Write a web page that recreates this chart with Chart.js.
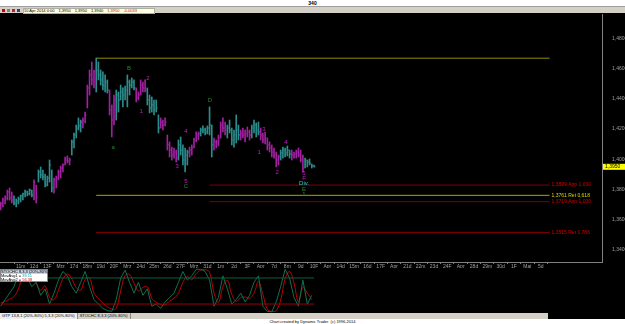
<!DOCTYPE html>
<html lang="de">
<head>
<meta charset="UTF-8">
<title>340</title>
<script src="https://cdn.jsdelivr.net/npm/chart.js"></script>
<style>
  body { margin: 0; width: 625px; height: 324px; background: #000; overflow: hidden; position: relative;
         font-family: "Liberation Sans", Arial, sans-serif; }
  canvas { position: absolute; left: 0; }
  #title { position: absolute; left: 0; top: 0; width: 625px; height: 6px; background: #fff; border-bottom: 1px solid #a0a0a0;
           font-size: 5px; line-height: 6px; text-align: center; font-weight: bold; color: #000; }
  #info { position: absolute; left: 0; top: 7px; width: 625px; height: 6px; background: #d4d0c8; }
  #info .ico { position: absolute; top: 2px; width: 3px; height: 3px; }
  #info .box { position: absolute; left: 23px; top: 1px; width: 130px; height: 4px; background: #ffffe1; border: 1px solid #b0b0a0;
               font-size: 4px; line-height: 4px; white-space: nowrap; color: #000; }
  #info .box span { margin-right: 4px; }
  #legend { position: absolute; left: 0; top: 269px; width: 48px; height: 13px; background: #fff; border: 1px solid #888;
            box-sizing: border-box; font-size: 4px; line-height: 4px; color: #000; white-space: nowrap; }
  #legend div:first-child { background: #c8d0e0; }
  #tabs { position: absolute; left: 0; top: 313px; width: 548px; height: 6px; background: #d4d0c8; font-size: 4px; line-height: 6px; white-space: nowrap; }
  #tabs span { display: inline-block; padding: 0 2px; border-right: 1px solid #888; }
  #tabs span:first-child { background: #eeeeee; }
  #credit { position: absolute; left: 0; top: 319px; width: 625px; height: 5px; background: #fff; font-size: 4px; line-height: 5px;
            text-align: center; color: #000; }
</style>
</head>
<body>
<div id="title">340</div>
<div id="info">
  <div class="ico" style="left:2px;background:#d00000"></div>
  <div class="ico" style="left:7px;background:#808080"></div>
  <div class="ico" style="left:12px;background:#a03030"></div>
  <div class="ico" style="left:17px;background:#2040a0"></div>
  <div class="box"><span>10 Apr 2014 0:00</span><span>1,3950</span><span>1,3950</span><span>1,3940</span><span style="color:#e00000">1,3950</span><span style="color:#e00000">-0,0033</span></div>
</div>
<canvas id="main" width="625" height="254" style="top:14px"></canvas>
<canvas id="osc" width="625" height="46" style="top:268px"></canvas>
<div id="legend">
  <div>STOCHC 8,3,3 (20%-80%)</div>
  <div>MovAvg1 = <span style="color:#00a0a0">39,11</span></div>
  <div>MovAvg2 = <span style="color:#e00000">56,38</span></div>
</div>
<div id="tabs"><span>GTP 13,8,1 (20%-80%) 5,3,3 (20%-80%)</span><span>STOCHC 8,3,3 (20%-80%)</span></div>
<div id="credit">Chart created by Dynamic Trader &nbsp;(c) 1996-2014</div>

<script>
// 4-hour bars, 7 Mar 2014 12:00 .. 10 Apr 2014 0:00
const high = [1.3717,1.3743,1.3757,1.3796,1.3810,1.3783,1.3757,1.3737,1.3750,1.3763,
  1.3776,1.3796,1.3790,1.3803,1.3796,1.3863,1.3829,1.3929,1.3949,1.3929,
  1.3902,1.3889,1.3995,1.3929,1.3876,1.3889,1.3929,1.3955,1.3969,1.4015,
  1.4022,1.4008,1.4128,1.4174,1.4227,1.4274,1.4260,1.4274,1.4313,1.4492,
  1.4592,1.4645,1.4592,1.4671,1.4645,1.4592,1.4579,1.4559,1.4526,1.4459,
  1.4360,1.4426,1.4459,1.4446,1.4492,1.4473,1.4486,1.4559,1.4526,1.4539,
  1.4526,1.4473,1.4446,1.4526,1.4512,1.4526,1.4473,1.4426,1.4413,1.4393,
  1.4393,1.4294,1.4274,1.4260,1.4274,1.4161,1.4115,1.4081,1.4075,1.4061,
  1.4128,1.4148,1.4095,1.4075,1.4061,1.4081,1.4095,1.4141,1.4181,1.4181,
  1.4207,1.4221,1.4207,1.4221,1.4347,1.4227,1.4141,1.4128,1.4161,1.4247,
  1.4274,1.4247,1.4227,1.4260,1.4207,1.4194,1.4294,1.4227,1.4194,1.4207,
  1.4194,1.4214,1.4194,1.4227,1.4260,1.4241,1.4247,1.4207,1.4174,1.4181,
  1.4141,1.4115,1.4095,1.4075,1.4048,1.4028,1.4061,1.4081,1.4075,1.4088,
  1.4061,1.4061,1.4048,1.4061,1.4075,1.4061,1.4028,1.4008,1.3995,1.4002,
  1.3969,1.3962];
const low = [1.3664,1.3684,1.3704,1.3730,1.3730,1.3710,1.3697,1.3684,1.3704,1.3717,
  1.3730,1.3750,1.3757,1.3763,1.3750,1.3730,1.3710,1.3849,1.3876,1.3863,
  1.3816,1.3823,1.3849,1.3783,1.3776,1.3810,1.3863,1.3876,1.3916,1.3962,
  1.3975,1.3962,1.4028,1.4075,1.4141,1.4194,1.4181,1.4207,1.4241,1.4340,
  1.4426,1.4492,1.4473,1.4446,1.4526,1.4492,1.4459,1.4446,1.4439,1.4294,
  1.4148,1.4227,1.4260,1.4313,1.4393,1.4347,1.4393,1.4347,1.4426,1.4473,
  1.4459,1.4380,1.4393,1.4426,1.4446,1.4446,1.4360,1.4307,1.4313,1.4294,
  1.4313,1.4174,1.4207,1.4194,1.4221,1.4061,1.4015,1.3995,1.4008,1.3982,
  1.3995,1.4028,1.3962,1.3916,1.3962,1.4015,1.4028,1.4075,1.4115,1.4128,
  1.4154,1.4174,1.4161,1.4168,1.4161,1.4015,1.4061,1.4075,1.4088,1.4141,
  1.4181,1.4161,1.4141,1.4174,1.4095,1.4081,1.4108,1.4128,1.4128,1.4141,
  1.4115,1.4148,1.4128,1.4141,1.4174,1.4148,1.4161,1.4128,1.4108,1.4101,
  1.4061,1.4048,1.4015,1.4008,1.3949,1.3962,1.3995,1.4008,1.4015,1.4022,
  1.4008,1.3995,1.4008,1.4008,1.4015,1.3982,1.3916,1.3942,1.3949,1.3962,
  1.3942,1.3949];
const close = [1.3704,1.3730,1.3743,1.3783,1.3743,1.3730,1.3710,1.3724,1.3737,1.3757,
  1.3770,1.3783,1.3770,1.3796,1.3763,1.3849,1.3750,1.3916,1.3896,1.3883,
  1.3829,1.3876,1.3962,1.3810,1.3863,1.3876,1.3916,1.3942,1.3962,1.3995,
  1.3989,1.3995,1.4115,1.4161,1.4207,1.4221,1.4247,1.4260,1.4294,1.4473,
  1.4559,1.4526,1.4579,1.4592,1.4559,1.4526,1.4492,1.4512,1.4459,1.4327,
  1.4260,1.4393,1.4426,1.4393,1.4446,1.4426,1.4459,1.4512,1.4492,1.4512,
  1.4473,1.4406,1.4426,1.4492,1.4473,1.4459,1.4393,1.4340,1.4360,1.4327,
  1.4340,1.4207,1.4247,1.4227,1.4247,1.4095,1.4061,1.4028,1.4048,1.4008,
  1.4095,1.4061,1.3995,1.4028,1.4048,1.4061,1.4075,1.4128,1.4161,1.4168,
  1.4194,1.4194,1.4181,1.4207,1.4227,1.4095,1.4115,1.4115,1.4141,1.4227,
  1.4207,1.4194,1.4207,1.4194,1.4128,1.4161,1.4194,1.4161,1.4174,1.4161,
  1.4168,1.4181,1.4161,1.4207,1.4227,1.4194,1.4181,1.4161,1.4128,1.4141,
  1.4095,1.4075,1.4048,1.4028,1.3995,1.4015,1.4042,1.4061,1.4042,1.4061,
  1.4035,1.4028,1.4035,1.4048,1.4028,1.3995,1.3942,1.3995,1.3982,1.3975,
  1.3955,1.3950];
// trend colouring of the bars: [direction, number of bars]
const trendRuns = [['dn',6],['up',9],['dn',2],['up',7],['dn',8],['up',5],['dn',6],['up',6],['dn',3],
  ['up',9],['dn',5],['up',6],['dn',8],['up',5],['dn',5],['up',6],['dn',3],['dn',3],['up',6],['dn',5],
  ['up',4],['dn',9],['up',5],['dn',6],['up',5]];

// day labels on the time axis, first one is 11 Mar
const dayLabels = ['11m','12d','13F','Mrz','17d','18m','19d','20F','Mrz','24d','25m','26d','27F','Mrz',
  '31d','1m','2d','3F','Apr','7d','8m','9d','10F','Apr','14d','15m','16d','17F','Apr','21d','22m','23d',
  '24F','Apr','28d','29m','30d','1F','Mai','5d'];
const firstDayBar = 9;
const barsPerDay = 6;
const priceTicks = [1.34, 1.36, 1.38, 1.40, 1.42, 1.44, 1.46, 1.48];

// projection / retracement levels
const levelPrice = [1.4670, 1.3829, 1.3761, 1.3719, 1.3515];
const levelStartBar = [43, 94, 43, 94, 43];
const levelEndBar = 247;
const levelText = ['', '1,3829 App 1,000', '1,3761 Ret 0,618', '1,3719 App 1,000', '1,3515 Ret 0,786'];

// wave labels
const waveText = ['a','B','1','2','3','4','5','C','D','1','3','2','4','5','F','Div.','E','1'];
const waveBar = [50.6, 57.8, 63.2, 66.3, 79.4, 83.4, 83.4, 83.4, 94.2, 116.3, 118.5, 124.4, 128.4, 136.5, 136.5, 136.5, 136.5, 136.5];
const wavePrice = [1.4081, 1.4605, 1.4320, 1.4539, 1.3955, 1.4188, 1.3856, 1.3823, 1.4393, 1.4048, 1.4201, 1.3916, 1.4115, 1.3909, 1.3876, 1.3843, 1.3803, 1.3770];
const waveKind = ['g','g','m','m','m','m','m','g','g','m','m','m','m','m','m','c','g','g'];

// STOCHC 8,3,3, one reading every 2 bars
const oscStep = 2;
const oscFast = [15,30,45,60,90,100,80,60,70,40,55,20,45,75,95,85,60,45,70,95,60,30,20,10,5,3,30,80,98,70,
  45,70,40,55,15,20,10,25,35,45,70,95,75,85,100,100,95,75,15,35,85,55,20,30,45,25,40,70,85,15,
  3,2,25,60,100,80,35,15,75,20,40];
const oscSlow = [22,26,31,37,55,85,97,85,68,52,62,35,30,52,78,89,78,58,52,77,80,45,33,22,14,8,10,50,86,88,
  68,50,58,60,33,24,19,18,27,33,45,70,83,76,90,98,99,93,45,24,60,75,42,26,35,36,33,45,72,42,
  8,3,5,29,78,95,68,25,58,45,30];
const oscLevels = [80, 20];

// ---- styles
const UP = '#2b8c8c', DN = '#a0209f';
const waveColor = { g: '#2a8a2a', m: '#c020c0', c: '#30d0d0' };
const levelColor = ['#8f8f00', '#800000', '#a8a800', '#800000', '#800000'];
const levelTextColor = ['#c0c000', '#d00000', '#d8d800', '#d00000', '#d00000'];
const FONT = '"Liberation Sans", Arial, sans-serif';

const barColors = [];
trendRuns.forEach(r => { for (let k = 0; k < r[1]; k++) barColors.push(r[0] === 'up' ? UP : DN); });

const xRange = { min: -0.3, max: 270.6 };
const noPad = s => { s.paddingTop = 0; s.paddingBottom = 0; s.paddingLeft = 0; s.paddingRight = 0; };

const annotate = {
  id: 'annotate',
  afterDatasetsDraw(chart) {
    const { ctx, scales: { x, y } } = chart;
    ctx.save();
    ctx.font = '6px ' + FONT;
    ctx.textAlign = 'center';
    ctx.textBaseline = 'middle';
    waveText.forEach((t, i) => {
      ctx.fillStyle = waveColor[waveKind[i]];
      ctx.fillText(t, x.getPixelForValue(waveBar[i]), y.getPixelForValue(wavePrice[i]));
    });
    ctx.textAlign = 'left';
    ctx.font = '5px ' + FONT;
    levelText.forEach((t, i) => {
      if (!t) return;
      ctx.fillStyle = levelTextColor[i];
      ctx.fillText(t, x.getPixelForValue(levelEndBar) + 2, y.getPixelForValue(levelPrice[i]));
    });
    // last price marker on the price axis
    const last = close[close.length - 1];
    const py = y.getPixelForValue(last);
    ctx.fillStyle = '#ffff00';
    ctx.fillRect(x.right + 1, py - 3, 23, 6);
    ctx.fillStyle = '#000';
    ctx.fillText(last.toFixed(4).replace('.', ','), x.right + 3, py);
    ctx.restore();
  }
};

const levelSets = levelPrice.map((p, i) => ({
  type: 'line',
  data: [{ x: levelStartBar[i], y: p }, { x: levelEndBar, y: p }],
  borderColor: levelColor[i], borderWidth: 1, pointRadius: 0, order: 5
}));

new Chart(document.getElementById('main'), {
  type: 'bar',
  data: {
    datasets: [
      {
        data: high.map((h, i) => ({ x: i, y: [low[i], h] })),
        backgroundColor: barColors, barThickness: 1, borderWidth: 0, grouped: false, order: 2
      },
      {
        type: 'scatter',
        data: close.map((c, i) => ({ x: i, y: c })),
        pointStyle: 'dash', pointRadius: 1.5, borderColor: barColors, borderWidth: 1, order: 1
      },
      ...levelSets
    ]
  },
  options: {
    responsive: false, animation: false, events: [],
    layout: { padding: 0, autoPadding: false },
    plugins: { legend: { display: false }, tooltip: { enabled: false } },
    scales: {
      x: {
        type: 'linear', offset: false, min: xRange.min, max: xRange.max,
        grid: { display: true, drawOnChartArea: false, drawTicks: true, tickLength: 2, color: '#808080' },
        border: { display: true, color: '#808080' },
        afterBuildTicks: s => { s.ticks = dayLabels.map((_, d) => ({ value: firstDayBar + barsPerDay * d })); },
        ticks: { autoSkip: false, maxRotation: 0, padding: 0, color: '#a0a0a0', font: { size: 5, family: FONT },
                 callback: (v, i) => dayLabels[i] },
        afterFit: s => { s.height = 6; noPad(s); }
      },
      y: {
        position: 'right', min: 1.3319, max: 1.4963,
        grid: { display: false },
        border: { display: true, color: '#808080' },
        afterBuildTicks: s => { s.ticks = priceTicks.map(v => ({ value: v })); },
        ticks: { padding: 2, color: '#a0a0a0', font: { size: 5, family: FONT },
                 callback: v => v.toFixed(4).replace('.', ',') },
        afterFit: s => { s.width = 23; noPad(s); }
      }
    }
  },
  plugins: [annotate]
});

const oscPoints = arr => arr.map((v, i) => ({ x: i * oscStep, y: v }));

new Chart(document.getElementById('osc'), {
  type: 'line',
  data: {
    datasets: [
      ...oscLevels.map((v, i) => ({
        data: [{ x: 0, y: v }, { x: close.length - 1, y: v }],
        borderColor: i === 0 ? '#0a6040' : '#a00000', borderWidth: 1, pointRadius: 0
      })),
      { data: oscPoints(oscFast), borderColor: '#107050', borderWidth: 1, pointRadius: 0, tension: 0 },
      { data: oscPoints(oscSlow), borderColor: '#c00000', borderWidth: 1, pointRadius: 0, tension: 0.4 }
    ]
  },
  options: {
    responsive: false, animation: false, events: [],
    layout: { padding: { right: 23 }, autoPadding: false },
    plugins: { legend: { display: false }, tooltip: { enabled: false } },
    scales: {
      x: { type: 'linear', min: xRange.min, max: xRange.max, display: false },
      y: { min: -3, max: 103, display: false }
    }
  }
});
</script>
</body>
</html>
